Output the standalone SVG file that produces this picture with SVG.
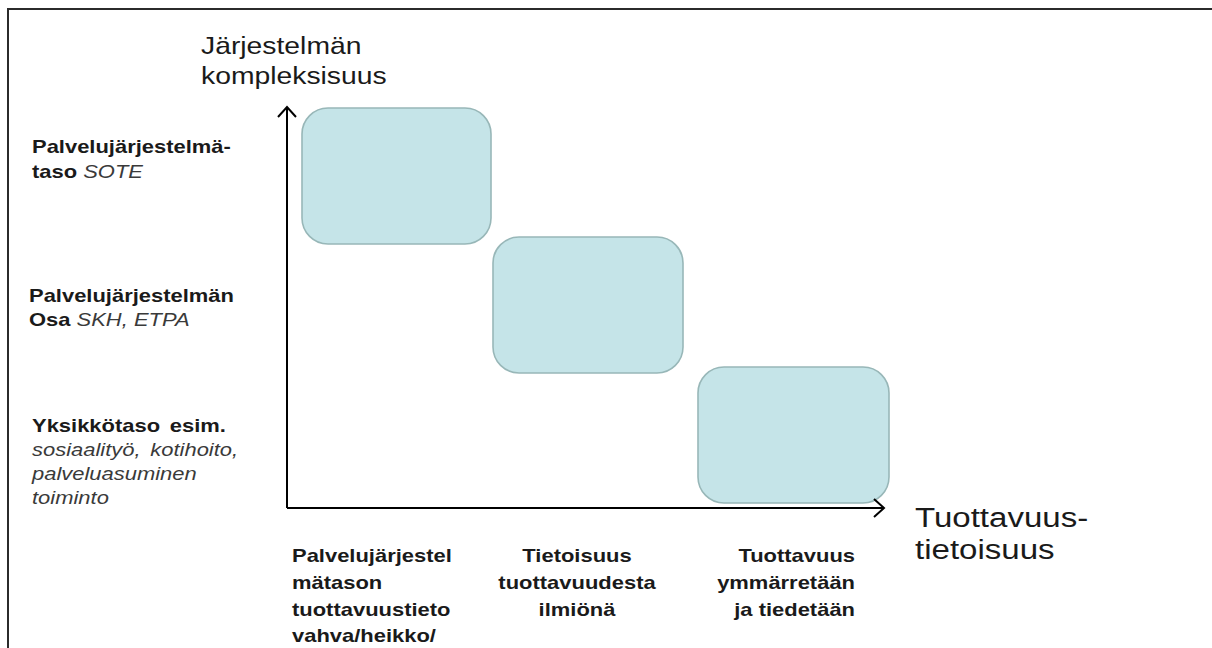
<svg xmlns="http://www.w3.org/2000/svg" width="1212" height="648" viewBox="0 0 1212 648">
<style>
text{font-family:"Liberation Sans",Arial,sans-serif;fill:#1a1a1a}
.big{font-size:24px}
.big2{font-size:28px}
.b{font-size:18px;font-weight:bold}
.i{font-style:italic;font-weight:normal;fill:#3a3a3a}
.box{fill:#c5e4e8;stroke:#98b7b8;stroke-width:1.6}
.axis{fill:none;stroke:#000;stroke-width:2}
</style>
<rect x="0" y="0" width="1212" height="648" fill="#fff"/>
<path d="M8,648 V9 H1212" fill="none" stroke="#2b2b2b" stroke-width="2"/>

<g id="box-palvelujarjestelma">
<rect class="box" x="302" y="108" width="189" height="136" rx="26"/>
</g>
<g id="box-osa">
<rect class="box" x="493" y="237" width="190" height="136" rx="26"/>
</g>
<g id="box-yksikko">
<rect class="box" x="698" y="367" width="191" height="136" rx="26"/>
</g>

<g id="connectors">
<path class="axis" d="M287,508 V107 M278,117 L287,107 L296,117"/>
<path class="axis" d="M287,508 H884 M874,499 L884,508 L874,517"/>
</g>

<g id="label-y-axis" transform="translate(201,54) scale(1.18,1)">
<text class="big"><tspan x="0" y="0">Järjestelmän</tspan><tspan x="0" y="30">kompleksisuus</tspan></text>
</g>
<g id="label-x-axis" transform="translate(915,527) scale(1.18,1)">
<text class="big2"><tspan x="0" y="0">Tuottavuus-</tspan><tspan x="0" y="32">tietoisuus</tspan></text>
</g>

<g id="label-level1" transform="translate(32,153) scale(1.22,1)">
<text class="b"><tspan x="0" y="0">Palvelujärjestelmä-</tspan><tspan x="0" y="25">taso <tspan class="i">SOTE</tspan></tspan></text>
</g>
<g id="label-level2" transform="translate(29,302) scale(1.22,1)">
<text class="b"><tspan x="0" y="0">Palvelujärjestelmän</tspan><tspan x="0" y="24">Osa <tspan class="i">SKH, ETPA</tspan></tspan></text>
</g>
<g id="label-level3" transform="translate(32,432) scale(1.22,1)">
<text class="b" word-spacing="3"><tspan x="0" y="0">Yksikkötaso esim.</tspan><tspan class="i" x="0" y="24">sosiaalityö, kotihoito,</tspan><tspan class="i" x="0" y="48">palveluasuminen</tspan><tspan class="i" x="0" y="72">toiminto</tspan></text>
</g>

<g id="label-col1" transform="translate(292,562) scale(1.22,1)">
<text class="b"><tspan x="0" y="0">Palvelujärjestel</tspan><tspan x="0" y="27">mätason</tspan><tspan x="0" y="54">tuottavuustieto</tspan><tspan x="0" y="80">vahva/heikko/</tspan></text>
</g>
<g id="label-col2" transform="translate(577,562) scale(1.22,1)">
<text class="b" text-anchor="middle"><tspan x="0" y="0">Tietoisuus</tspan><tspan x="0" y="27">tuottavuudesta</tspan><tspan x="0" y="54">ilmiönä</tspan></text>
</g>
<g id="label-col3" transform="translate(855,562) scale(1.22,1)">
<text class="b" text-anchor="end"><tspan x="0" y="0">Tuottavuus</tspan><tspan x="0" y="27">ymmärretään</tspan><tspan x="0" y="54">ja tiedetään</tspan></text>
</g>
</svg>
